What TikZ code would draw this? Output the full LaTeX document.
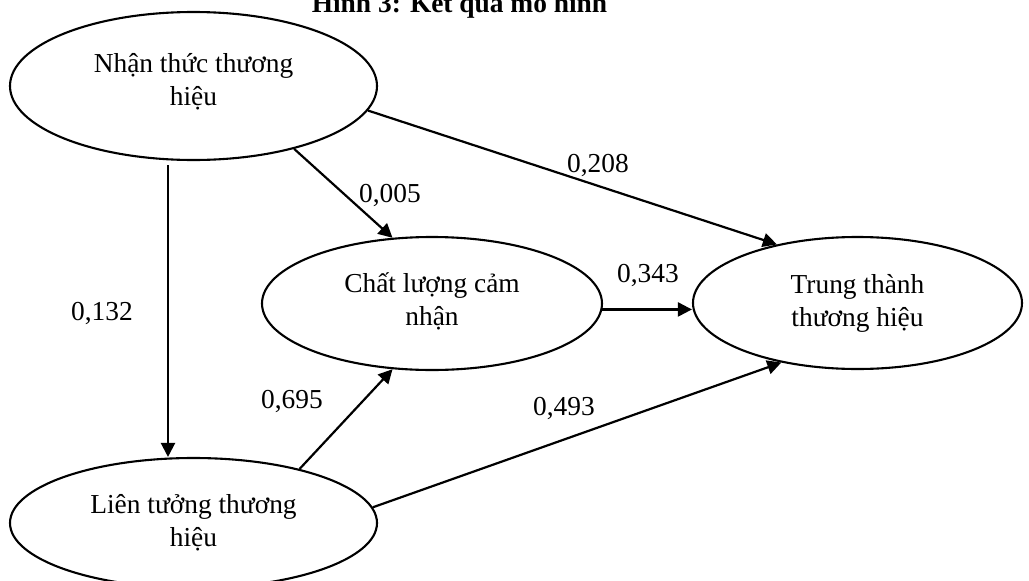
\documentclass[tikz,border=0pt]{standalone}
\usepackage{fontspec}
\setmainfont{Liberation Serif}
\usetikzlibrary{arrows.meta,shapes.geometric}
\begin{document}
\begin{tikzpicture}[x=1pt,y=-1pt,
  ell/.style={draw, ellipse, line width=2.1pt, inner sep=0pt},
  lbl/.style={font=\fontsize{27.4}{33}\selectfont, anchor=base, inner sep=0pt},
  txt/.style={font=\fontsize{27.4}{33}\selectfont, align=center, inner sep=0pt},
  arr/.style={line width=2.2pt, -{Triangle[length=14pt,width=14pt]}}]
\useasboundingbox (0,0) rectangle (1029,581);
\clip (0,0) rectangle (1029,581);
% ellipses
\node[ell, minimum width=367pt, minimum height=148pt] (A) at (193.5,86) {};
\node[ell, minimum width=367pt, minimum height=130pt] (B) at (193.5,523) {};
\node[ell, minimum width=340pt, minimum height=133pt] (C) at (432,303.5) {};
\node[ell, minimum width=329pt, minimum height=132pt] (D) at (857.5,303) {};
% texts
\node[txt] (At) at (193.5,81.75) {Nhận thức thương\\hiệu};
\node[txt] (Bt) at (193.5,522.75) {Liên tưởng thương\\hiệu};
\node[txt] (Ct) at (432,301) {Chất lượng cảm\\nhận};
\node[txt] (Dt) at (857.5,303.5) {Trung thành\\thương hiệu};
% arrows
\draw[arr] (A.-8.6) -- (D.144.8);
\draw[arr] (A.-32.2) -- (C.121);
\draw[arr] ([xshift=-25.5pt,yshift=-4pt]A.south) -- ([xshift=-25.5pt]B.north);
\draw[arr] (B.27.3) -- (C.-121.6);
\draw[arr] (B.5.1) -- (D.-142.6);
\draw[arr] (C.-2.5) -- (C.-2.5 -| D.west);
% labels
\node[lbl] (l208) at (598,172) {0,208};
\node[lbl] (l005) at (390,202) {0,005};
\node[lbl] (l132) at (102,320) {0,132};
\node[lbl] (l695) at (292,408) {0,695};
\node[lbl] (l493) at (564,415) {0,493};
\node[lbl] (l343) at (648,282) {0,343};
% title (cut off at top, as in the reference)
\node[lbl, font=\bfseries\fontsize{27.4}{33}\selectfont] (title) at (459.5,12.5) {Hình 3: Kết quả mô hình};
\end{tikzpicture}
\end{document}
